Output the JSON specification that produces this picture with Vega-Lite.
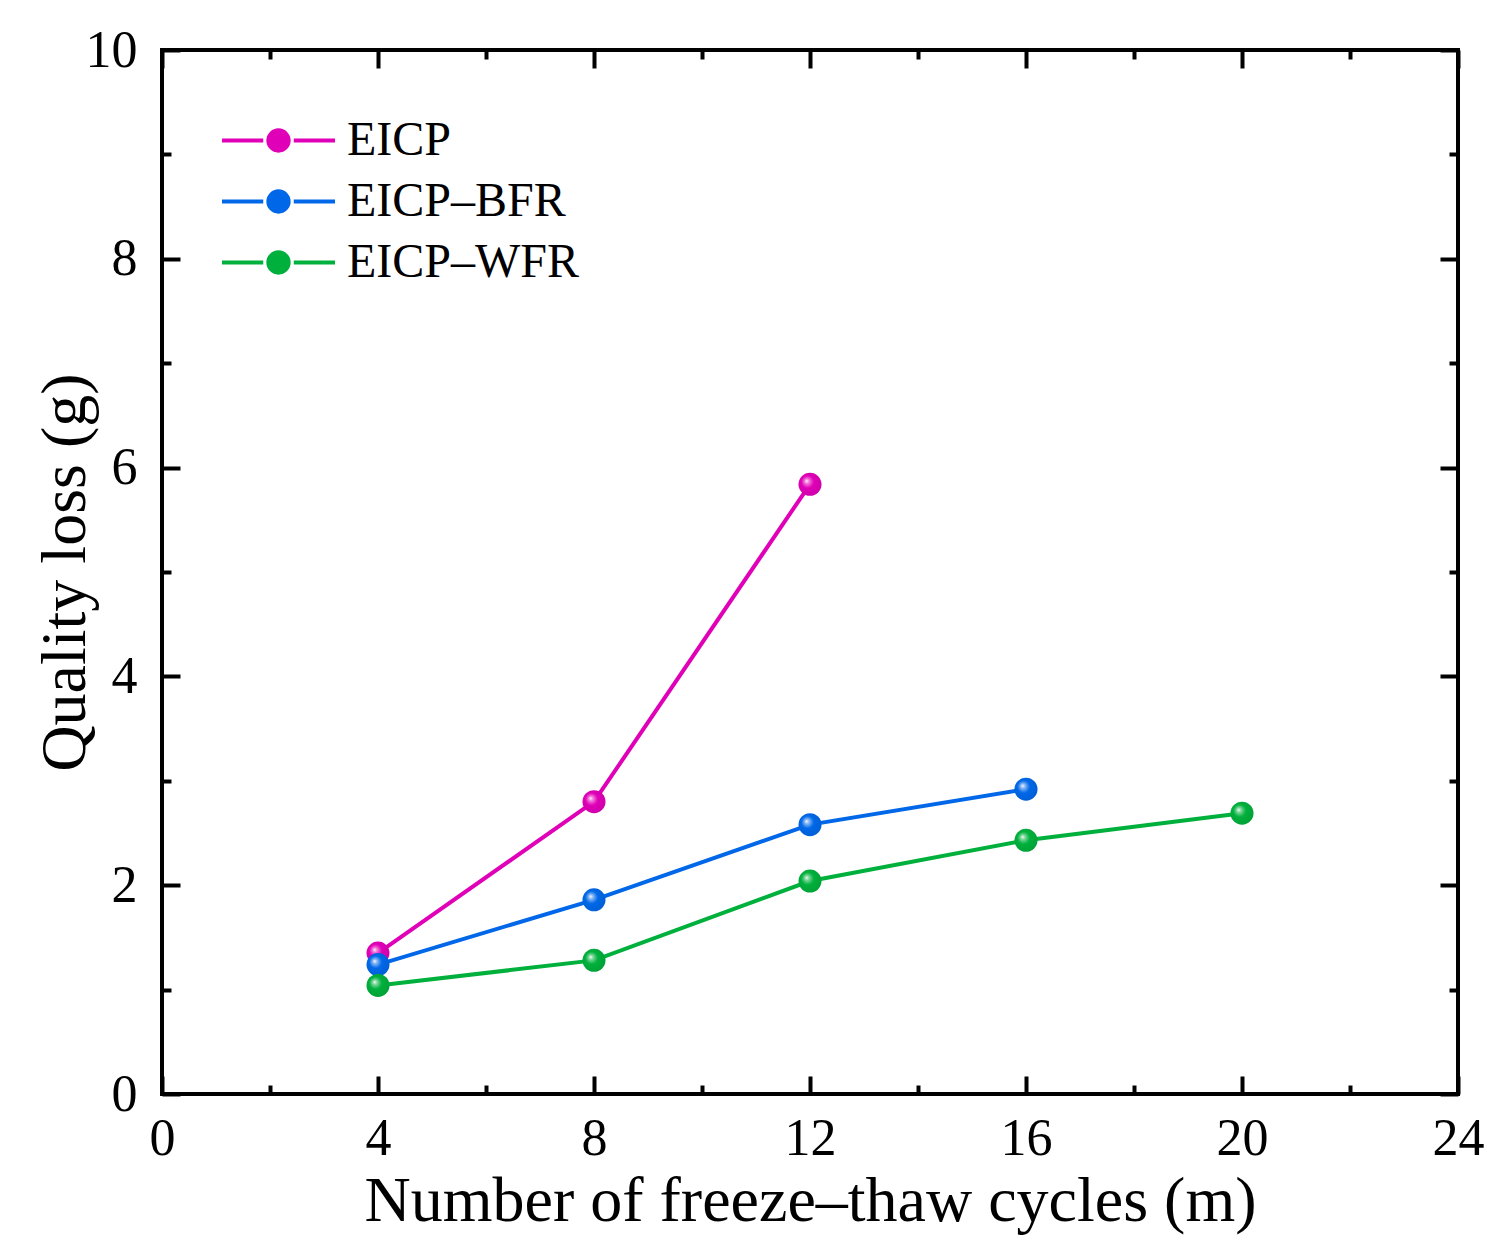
{
  "$schema": "https://vega.github.io/schema/vega-lite/v6.json",
  "autosize": {"type": "none"},
  "padding": {"left": 162, "top": 50, "right": 44, "bottom": 161},
  "width": 1296,
  "height": 1044,
  "background": "white",
  "config": {
    "view": {"stroke": "black", "strokeWidth": 4},
    "font": "Liberation Serif",
    "axis": {
      "domain": false,
      "grid": false,
      "tickColor": "black",
      "tickWidth": 4,
      "labelFont": "Liberation Serif",
      "labelFontSize": 52,
      "labelColor": "black",
      "titleFont": "Liberation Serif",
      "titleFontSize": 64,
      "titleFontWeight": "normal",
      "titleColor": "black"
    }
  },
  "data": {
    "values": [
      {"cycles": 4, "loss": 1.35, "series": "EICP"},
      {"cycles": 8, "loss": 2.80, "series": "EICP"},
      {"cycles": 12, "loss": 5.84, "series": "EICP"},
      {"cycles": 4, "loss": 1.24, "series": "EICP–BFR"},
      {"cycles": 8, "loss": 1.86, "series": "EICP–BFR"},
      {"cycles": 12, "loss": 2.58, "series": "EICP–BFR"},
      {"cycles": 16, "loss": 2.92, "series": "EICP–BFR"},
      {"cycles": 4, "loss": 1.04, "series": "EICP–WFR"},
      {"cycles": 8, "loss": 1.28, "series": "EICP–WFR"},
      {"cycles": 12, "loss": 2.04, "series": "EICP–WFR"},
      {"cycles": 16, "loss": 2.43, "series": "EICP–WFR"},
      {"cycles": 20, "loss": 2.69, "series": "EICP–WFR"}
    ]
  },
  "layer": [
    {
      "mark": {"type": "line", "strokeWidth": 4},
      "encoding": {
        "x": {
          "field": "cycles",
          "type": "quantitative",
          "scale": {"domain": [0, 24], "nice": false, "zero": false},
          "axis": {
            "orient": "bottom",
            "title": "Number of freeze–thaw cycles (m)",
            "values": [0, 2, 4, 6, 8, 10, 12, 14, 16, 18, 20, 22, 24],
            "labelExpr": "datum.value % 4 === 0 ? datum.label : ''",
            "tickSize": {"condition": {"test": "datum.value % 4 === 0", "value": -18}, "value": -9},
            "labelPadding": 37,
            "labelFlush": false,
            "titlePadding": 5
          }
        },
        "y": {
          "field": "loss",
          "type": "quantitative",
          "scale": {"domain": [0, 10], "nice": false},
          "axis": {
            "orient": "left",
            "title": "Quality loss (g)",
            "values": [0, 1, 2, 3, 4, 5, 6, 7, 8, 9, 10],
            "labelExpr": "datum.value % 2 === 0 ? datum.label : ''",
            "tickSize": {"condition": {"test": "datum.value % 2 === 0", "value": -18}, "value": -9},
            "labelPadding": 43,
            "labelFlush": false,
            "titlePadding": -12
          }
        },
        "color": {
          "field": "series",
          "type": "nominal",
          "scale": {
            "domain": ["EICP", "EICP–BFR", "EICP–WFR"],
            "range": ["#e000b8", "#0068e8", "#00b03c"]
          },
          "legend": {
            "title": null,
            "orient": "none",
            "legendX": 58,
            "legendY": 60,
            "symbolType": "M-1,0L-0.27,0M0.27,0L1,0M-0.18,0A0.18,0.18,0,1,1,0.18,0A0.18,0.18,0,1,1,-0.18,0Z",
            "symbolSize": 12769,
            "symbolStrokeWidth": 4,
            "labelFont": "Liberation Serif",
            "labelFontSize": 48,
            "labelColor": "black",
            "labelLimit": 0,
            "labelOffset": 10,
            "clipHeight": 61,
            "rowPadding": 0,
            "encode": {
              "symbols": {
                "update": {
                  "fill": {"scale": "color", "field": "value"},
                  "stroke": {"scale": "color", "field": "value"},
                  "fillOpacity": {"value": 1}
                }
              }
            }
          }
        }
      }
    },
    {
      "transform": [{"filter": "datum.series === 'EICP'"}],
      "mark": {
        "type": "point", "filled": true, "size": 529, "opacity": 1,
        "fill": {"gradient": "radial", "x1": 0.35, "y1": 0.35, "r1": 0, "x2": 0.45, "y2": 0.45, "r2": 0.6,
          "stops": [{"offset": 0, "color": "#ffffff"}, {"offset": 0.16, "color": "#f27ddb"}, {"offset": 0.45, "color": "#e000b8"}, {"offset": 1, "color": "#cc00a8"}]}
      },
      "encoding": {
        "x": {"field": "cycles", "type": "quantitative", "axis": null},
        "y": {"field": "loss", "type": "quantitative", "axis": null}
      }
    },
    {
      "transform": [{"filter": "datum.series === 'EICP–BFR'"}],
      "mark": {
        "type": "point", "filled": true, "size": 529, "opacity": 1,
        "fill": {"gradient": "radial", "x1": 0.35, "y1": 0.35, "r1": 0, "x2": 0.45, "y2": 0.45, "r2": 0.6,
          "stops": [{"offset": 0, "color": "#ffffff"}, {"offset": 0.16, "color": "#8ab8f4"}, {"offset": 0.45, "color": "#0068e8"}, {"offset": 1, "color": "#005ed4"}]}
      },
      "encoding": {
        "x": {"field": "cycles", "type": "quantitative", "axis": null},
        "y": {"field": "loss", "type": "quantitative", "axis": null}
      }
    },
    {
      "transform": [{"filter": "datum.series === 'EICP–WFR'"}],
      "mark": {
        "type": "point", "filled": true, "size": 529, "opacity": 1,
        "fill": {"gradient": "radial", "x1": 0.35, "y1": 0.35, "r1": 0, "x2": 0.45, "y2": 0.45, "r2": 0.6,
          "stops": [{"offset": 0, "color": "#ffffff"}, {"offset": 0.16, "color": "#80d89e"}, {"offset": 0.45, "color": "#00b03c"}, {"offset": 1, "color": "#00a036"}]}
      },
      "encoding": {
        "x": {"field": "cycles", "type": "quantitative", "axis": null},
        "y": {"field": "loss", "type": "quantitative", "axis": null}
      }
    },
    {
      "mark": {"type": "point", "opacity": 0},
      "encoding": {
        "x": {
          "field": "cycles",
          "type": "quantitative",
          "axis": {
            "orient": "top",
            "title": null,
            "labels": false,
            "values": [0, 2, 4, 6, 8, 10, 12, 14, 16, 18, 20, 22, 24],
            "tickSize": {"condition": {"test": "datum.value % 4 === 0", "value": -18}, "value": -9}
          }
        },
        "y": {
          "field": "loss",
          "type": "quantitative",
          "axis": {
            "orient": "right",
            "title": null,
            "labels": false,
            "values": [0, 1, 2, 3, 4, 5, 6, 7, 8, 9, 10],
            "tickSize": {"condition": {"test": "datum.value % 2 === 0", "value": -18}, "value": -9}
          }
        }
      }
    }
  ],
  "resolve": {"axis": {"x": "independent", "y": "independent"}}
}
